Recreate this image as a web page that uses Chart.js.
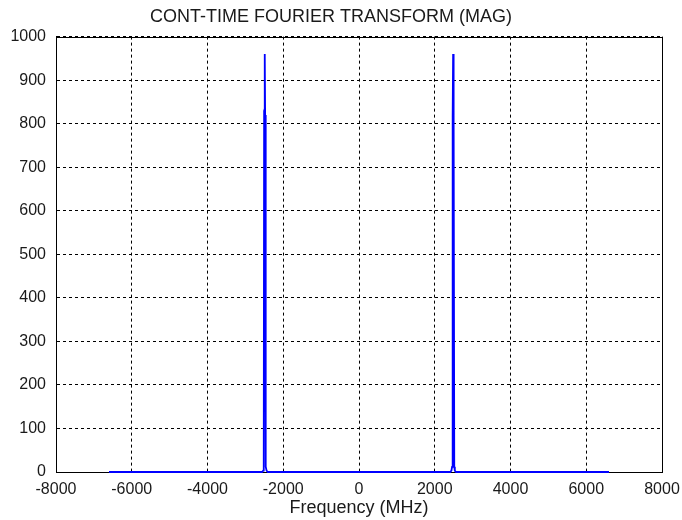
<!DOCTYPE html>
<html>
<head>
<meta charset="utf-8">
<script src="https://cdn.jsdelivr.net/npm/chart.js@4.4.1/dist/chart.umd.min.js"></script>
<style>
html,body{margin:0;padding:0;background:#fff;}
#wrap{width:682px;height:520px;position:relative;}
</style>
</head>
<body>
<div id="wrap"><canvas id="c" width="682" height="520"></canvas></div>
<script>
const chartTitle = 'CONT-TIME FOURIER TRANSFORM (MAG)';
const xTitle = 'Frequency (MHz)';
const xTicks = [-8000, -6000, -4000, -2000, 0, 2000, 4000, 6000, 8000];
const yTicks = [0, 100, 200, 300, 400, 500, 600, 700, 800, 900, 1000];
const freqs = [-6600, -2560, -2530, -2515, -2505, -2492, -2485, -2478, -2468, -2458, -2440, -2410,
               2410, 2440, 2458, 2468, 2478, 2485, 2492, 2505, 2515, 2530, 2560, 6600];
const mags  = [0, 0, 3, 12, 820, 815, 960, 815, 820, 12, 3, 0,
               0, 3, 12, 820, 815, 960, 815, 820, 12, 3, 0, 0];

const FONT = '"Liberation Sans", Arial, sans-serif';
const boxPlugin = {
  id: 'box',
  beforeDatasetsDraw(chart) {
    const {ctx, chartArea: a} = chart;
    ctx.save();
    ctx.strokeStyle = '#000';
    ctx.lineWidth = 1;
    ctx.setLineDash([]);
    ctx.strokeRect(Math.round(a.left) + 0.5, Math.round(a.top) + 0.5,
                   Math.round(a.right - a.left), Math.round(a.bottom - a.top));
    ctx.restore();
  }
};

new Chart(document.getElementById('c'), {
  type: 'scatter',
  data: {
    datasets: [{
      data: freqs.map((f, i) => ({x: f, y: mags[i]})),
      showLine: true,
      borderColor: '#0000ff',
      borderWidth: 1.8,
      pointRadius: 0,
      tension: 0,
      clip: false
    }]
  },
  options: {
    responsive: false,
    animation: false,
    devicePixelRatio: 1,
    layout: {padding: {left: 0, right: 20, top: 0, bottom: 1}},
    plugins: {
      legend: {display: false},
      tooltip: {enabled: false},
      title: {
        display: true,
        text: chartTitle,
        color: '#1a1a1a',
        font: {family: FONT, size: 18, weight: 'normal', lineHeight: 1.2},
        padding: {top: 6, bottom: 9}
      }
    },
    scales: {
      x: {
        type: 'linear',
        min: -8000, max: 8000,
        afterBuildTicks: s => { s.ticks = xTicks.map(v => ({value: v})); },
        afterFit: s => { s.height = 47; s.paddingLeft = 0; s.paddingRight = 0; },
        ticks: {color: '#1a1a1a', font: {family: FONT, size: 16}, padding: 8, maxRotation: 0,
                callback: v => String(v)},
        grid: {color: '#000', lineWidth: 1, drawTicks: false},
        border: {display: true, color: '#000', dash: [3, 3]},
        title: {display: true, text: xTitle, color: '#1a1a1a',
                font: {family: FONT, size: 18}, padding: {top: 0, bottom: 0}}
      },
      y: {
        type: 'linear',
        min: 0, max: 1000,
        afterBuildTicks: s => { s.ticks = yTicks.map(v => ({value: v})); },
        afterFit: s => { s.width = 56; s.paddingTop = 0; s.paddingBottom = 0; },
        ticks: {color: '#1a1a1a', font: {family: FONT, size: 16}, padding: 10,
                callback: v => String(v)},
        grid: {color: '#000', lineWidth: 1, drawTicks: false},
        border: {display: true, color: '#000', dash: [3, 3]}
      }
    }
  },
  plugins: [boxPlugin]
});
</script>
</body>
</html>
